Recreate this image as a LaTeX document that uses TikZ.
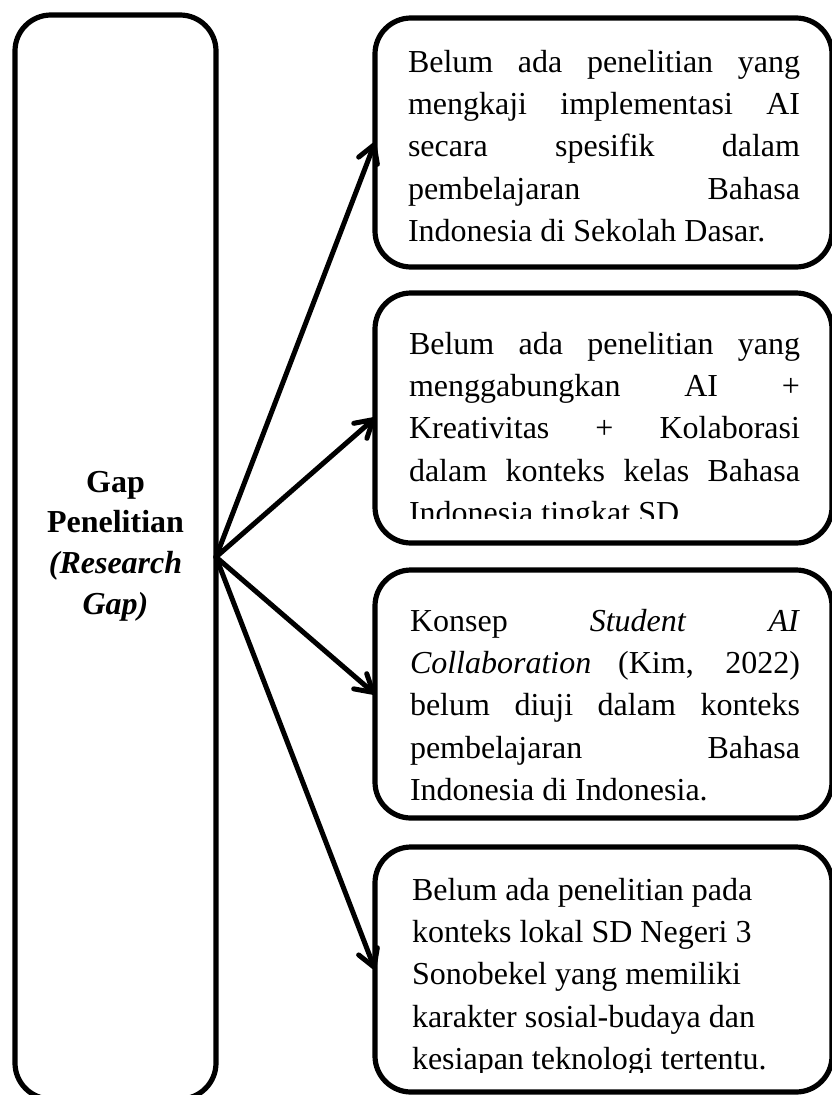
\documentclass[tikz,border=0pt]{standalone}
\usepackage{fontspec}
\setmainfont{Liberation Serif}
\usetikzlibrary{arrows.meta}
\begin{document}
\begin{tikzpicture}[x=1pt,y=-1pt,
  boxst/.style={draw, line width=5.2pt, rounded corners=36pt, inner sep=0pt, outer sep=0pt},
  txt/.style={inner sep=0pt, outer sep=0pt, anchor=north west, align=left, font=\fontsize{32}{42.4}\selectfont},
  gaptxt/.style={inner sep=0pt, outer sep=0pt, anchor=north, align=center, font=\fontsize{32}{40.7}\selectfont\bfseries},
  arr/.style={line width=5pt, line cap=round, line join=round, -{Straight Barb[length=17pt,width=20pt,line cap=round,line join=round]}}]
\clip (0,0) rectangle (832,1095);
\fill[white] (0,0) rectangle (832,1095);
% boxes
\node[boxst, minimum width=201pt, minimum height=1084pt] (gap) at (115.5,557) {};
\node[boxst, minimum width=457pt, minimum height=249pt] (b1) at (603.5,142.5) {};
\node[boxst, minimum width=457pt, minimum height=250pt] (b2) at (603.5,418) {};
\node[boxst, minimum width=457pt, minimum height=248pt] (b3) at (603.5,694) {};
\node[boxst, minimum width=457pt, minimum height=245pt] (b4) at (603.5,969.5) {};
% left text
\node[gaptxt] (gt) at (115.5,462) {\rule{0pt}{30pt}Gap\\Penelitian\\\textit{(Research}\\\textit{Gap)}};
% arrows
\draw[arr] (gap.east) -- (b1.west);
\draw[arr] (gap.east) -- (b2.west);
\draw[arr] (gap.east) -- (b3.west);
\draw[arr] (gap.east) -- (b4.west);
% texts
\node[txt] (t1) at (408,42) {\rule{0pt}{30pt}\makebox[392pt][s]{Belum ada penelitian yang}\\
\makebox[392pt][s]{mengkaji implementasi AI}\\
\makebox[392pt][s]{secara spesifik dalam}\\
\makebox[392pt][s]{pembelajaran Bahasa}\\
Indonesia di Sekolah Dasar.};
\begin{scope}
\clip (380,290) rectangle (830,518);
\node[txt] (t2) at (409,324) {\rule{0pt}{30pt}\makebox[391pt][s]{Belum ada penelitian yang}\\
\makebox[391pt][s]{menggabungkan AI +}\\
\makebox[391pt][s]{Kreativitas + Kolaborasi}\\
\makebox[391pt][s]{dalam konteks kelas Bahasa}\\
Indonesia tingkat SD.};
\end{scope}
\node[txt] (t3) at (410,601) {\rule{0pt}{30pt}\makebox[390pt][s]{Konsep \textit{Student} \textit{AI}}\\
\makebox[390pt][s]{\textit{Collaboration} (Kim, 2022)}\\
\makebox[390pt][s]{belum diuji dalam konteks}\\
\makebox[390pt][s]{pembelajaran Bahasa}\\
Indonesia di Indonesia.};
\begin{scope}
\clip (380,850) rectangle (830,1072);
\node[txt] (t4) at (412,870) {\rule{0pt}{30pt}Belum ada penelitian pada\\
konteks lokal SD Negeri 3\\
Sonobekel yang memiliki\\
karakter sosial-budaya dan\\
kesiapan teknologi tertentu.};
\end{scope}
\end{tikzpicture}
\end{document}
